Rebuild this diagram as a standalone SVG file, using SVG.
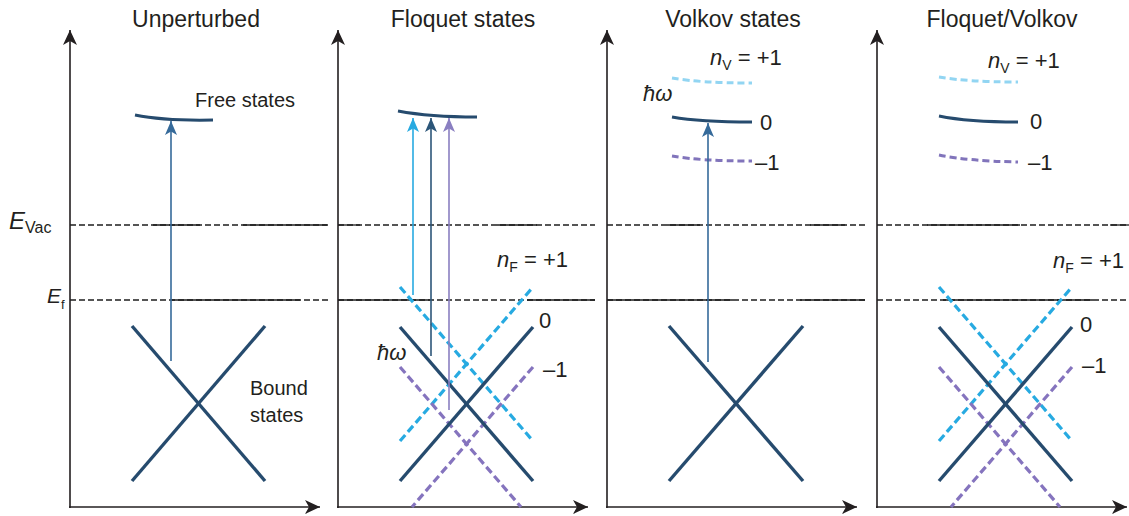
<svg xmlns="http://www.w3.org/2000/svg" width="1129" height="516" viewBox="0 0 1129 516">
<style>
text{font-family:"Liberation Sans",Arial,sans-serif;fill:#231f20}
.title{font-size:23px;text-anchor:middle}
.lbl{font-size:20px}
.num{font-size:22px}
.it{font-style:italic}
.axis{stroke:#231f20;stroke-width:1.6;fill:none}
.ref{stroke:#1e1e1e;stroke-width:1.3;fill:none;stroke-dasharray:6 3}
.refs{stroke:#1e1e1e;stroke-width:1.3;fill:none}
.band{stroke:#264b6e;stroke-width:3.4;fill:none;stroke-linecap:butt}
.bandc{stroke:#27aae1;stroke-width:3.2;fill:none;stroke-dasharray:8 4}
.bandp{stroke:#8574be;stroke-width:3.2;fill:none;stroke-dasharray:8 4}
.lvl{stroke:#264b6e;stroke-width:3;fill:none}
.lvlc{stroke:#92d5f2;stroke-width:3;fill:none;stroke-dasharray:7 4}
.lvlp{stroke:#8174bb;stroke-width:3;fill:none;stroke-dasharray:7 4}
</style>
<defs>
<marker id="ax" viewBox="0 0 15 14" refX="15" refY="7" markerWidth="15" markerHeight="14" markerUnits="userSpaceOnUse" orient="auto"><path d="M0,0 L15,7 L0,14 L4,7 z" fill="#231f20"/></marker>
<marker id="ab" viewBox="0 0 14 12" refX="14" refY="6" markerWidth="14" markerHeight="12" markerUnits="userSpaceOnUse" orient="auto"><path d="M0,0 L14,6 L0,12 L3.5,6 z" fill="#356a9a"/></marker>
<marker id="ac" viewBox="0 0 14 12" refX="14" refY="6" markerWidth="14" markerHeight="12" markerUnits="userSpaceOnUse" orient="auto"><path d="M0,0 L14,6 L0,12 L3.5,6 z" fill="#27aae1"/></marker>
<marker id="ad" viewBox="0 0 14 12" refX="14" refY="6" markerWidth="14" markerHeight="12" markerUnits="userSpaceOnUse" orient="auto"><path d="M0,0 L14,6 L0,12 L3.5,6 z" fill="#2c5679"/></marker>
<marker id="ap" viewBox="0 0 14 12" refX="14" refY="6" markerWidth="14" markerHeight="12" markerUnits="userSpaceOnUse" orient="auto"><path d="M0,0 L14,6 L0,12 L3.5,6 z" fill="#8a7fc1"/></marker>
</defs>
<rect width="1129" height="516" fill="#fff"/>

<g id="energy-labels">
<text x="9" y="229" style="font-size:24px" class="it">E<tspan dy="4" style="font-size:16px;font-style:normal">Vac</tspan></text>
<text x="47" y="303" style="font-size:21px" class="it">E<tspan dy="6" style="font-size:13px;font-style:normal">f</tspan></text>
</g>

<g id="panel-unperturbed">
<text class="title" x="196" y="27">Unperturbed</text>
<line class="ref" x1="70" y1="225" x2="330" y2="225"/>
<line class="refs" x1="153" y1="225" x2="200" y2="225"/>
<line class="refs" x1="243" y1="225" x2="327" y2="225"/>
<line class="ref" x1="70" y1="300" x2="330" y2="300"/>
<line class="refs" x1="172" y1="300" x2="300" y2="300"/>
<line class="axis" x1="70" y1="508" x2="70" y2="30" marker-end="url(#ax)"/>
<line class="axis" x1="69" y1="507" x2="320" y2="507" marker-end="url(#ax)"/>
<path class="lvl" d="M135,115 Q165,121 213,120"/>
<text class="lbl" x="195" y="107">Free states</text>
<line class="band" x1="132" y1="326" x2="265" y2="481"/>
<line class="band" x1="132" y1="481" x2="265" y2="326"/>
<text class="lbl" x="250" y="395">Bound</text>
<text class="lbl" x="250" y="422">states</text>
</g>

<g id="panel-floquet">
<text class="title" x="463" y="27">Floquet states</text>
<line class="ref" x1="338" y1="225" x2="595" y2="225"/>
<line class="refs" x1="338" y1="225" x2="360" y2="225"/>
<line class="refs" x1="497" y1="225" x2="537" y2="225"/>
<line class="ref" x1="338" y1="300" x2="595" y2="300"/>
<line class="refs" x1="338" y1="300" x2="430" y2="300"/>
<line class="refs" x1="527" y1="300" x2="595" y2="300"/>
<line class="axis" x1="338" y1="508" x2="338" y2="30" marker-end="url(#ax)"/>
<line class="axis" x1="337" y1="507" x2="588" y2="507" marker-end="url(#ax)"/>
<path class="lvl" d="M398,111 Q430,117 477,117"/>
<line class="bandc" x1="400" y1="287" x2="533" y2="441"/>
<line class="bandc" x1="400" y1="441" x2="533" y2="287"/>
<line class="bandp" x1="400" y1="367" x2="521" y2="507"/>
<line class="bandp" x1="533" y1="367" x2="412" y2="507"/>
<line class="band" x1="400" y1="327" x2="533" y2="481"/>
<line class="band" x1="400" y1="481" x2="533" y2="327"/>
<text class="num" x="497" y="267"><tspan class="it">n</tspan><tspan dy="5" style="font-size:14px">F</tspan><tspan dy="-5"> = +1</tspan></text>
<text class="num" x="539" y="328">0</text>
<text class="num" x="543" y="377">–1</text>
<text class="num it" x="377" y="360">ħω</text>
</g>

<g id="panel-volkov">
<text class="title" x="733" y="27">Volkov states</text>
<line class="ref" x1="607" y1="225" x2="865" y2="225"/>
<line class="refs" x1="667" y1="225" x2="700" y2="225"/>
<line class="refs" x1="810" y1="225" x2="845" y2="225"/>
<line class="ref" x1="607" y1="300" x2="865" y2="300"/>
<line class="refs" x1="607" y1="300" x2="733" y2="300"/>
<line class="refs" x1="800" y1="300" x2="865" y2="300"/>
<line class="axis" x1="607" y1="508" x2="607" y2="30" marker-end="url(#ax)"/>
<line class="axis" x1="606" y1="507" x2="857" y2="507" marker-end="url(#ax)"/>
<path class="lvlc" d="M672,78 Q700,83 752,83"/>
<path class="lvl" d="M672,117 Q700,122 752,122"/>
<path class="lvlp" d="M672,156 Q700,161 752,161"/>
<text class="num" x="710" y="65"><tspan class="it">n</tspan><tspan dy="5" style="font-size:14px">V</tspan><tspan dy="-5"> = +1</tspan></text>
<text class="num" x="760" y="130">0</text>
<text class="num" x="755" y="170">–1</text>
<text class="num it" x="643" y="101">ħω</text>
<line class="band" x1="669" y1="326" x2="803" y2="481"/>
<line class="band" x1="669" y1="481" x2="803" y2="326"/>
</g>

<g id="panel-floquet-volkov">
<text class="title" x="1002" y="27">Floquet/Volkov</text>
<line class="ref" x1="877" y1="225" x2="1129" y2="225"/>
<line class="refs" x1="927" y1="225" x2="1020" y2="225"/>
<line class="refs" x1="1110" y1="225" x2="1129" y2="225"/>
<line class="ref" x1="877" y1="300" x2="1129" y2="300"/>
<line class="refs" x1="943" y1="300" x2="1093" y2="300"/>
<line class="axis" x1="877" y1="508" x2="877" y2="30" marker-end="url(#ax)"/>
<line class="axis" x1="876" y1="507" x2="1127" y2="507" marker-end="url(#ax)"/>
<path class="lvlc" d="M939,77 Q968,82 1018,82"/>
<path class="lvl" d="M939,116 Q968,122 1018,122"/>
<path class="lvlp" d="M939,155 Q968,161 1018,162"/>
<text class="num" x="988" y="68"><tspan class="it">n</tspan><tspan dy="5" style="font-size:14px">V</tspan><tspan dy="-5"> = +1</tspan></text>
<text class="num" x="1030" y="129">0</text>
<text class="num" x="1028" y="170">–1</text>
<line class="bandc" x1="939" y1="287" x2="1072" y2="441"/>
<line class="bandc" x1="939" y1="441" x2="1072" y2="287"/>
<line class="bandp" x1="939" y1="367" x2="1060" y2="507"/>
<line class="bandp" x1="1072" y1="367" x2="951" y2="507"/>
<line class="band" x1="939" y1="327" x2="1072" y2="481"/>
<line class="band" x1="939" y1="481" x2="1072" y2="327"/>
<text class="num" x="1053" y="268"><tspan class="it">n</tspan><tspan dy="5" style="font-size:14px">F</tspan><tspan dy="-5"> = +1</tspan></text>
<text class="num" x="1080" y="332">0</text>
<text class="num" x="1082" y="373">–1</text>
</g>

<g id="connectors">
<line x1="171" y1="361" x2="171" y2="121" stroke="#356a9a" stroke-width="1.6" marker-end="url(#ab)"/>
<line x1="413" y1="295" x2="413" y2="118" stroke="#27aae1" stroke-width="1.6" marker-end="url(#ac)"/>
<line x1="431" y1="356" x2="431" y2="118" stroke="#2c5679" stroke-width="1.6" marker-end="url(#ad)"/>
<line x1="449" y1="410" x2="449" y2="118" stroke="#8a7fc1" stroke-width="1.6" marker-end="url(#ap)"/>
<line x1="708" y1="362" x2="708" y2="123" stroke="#356a9a" stroke-width="1.6" marker-end="url(#ab)"/>
</g>
</svg>
